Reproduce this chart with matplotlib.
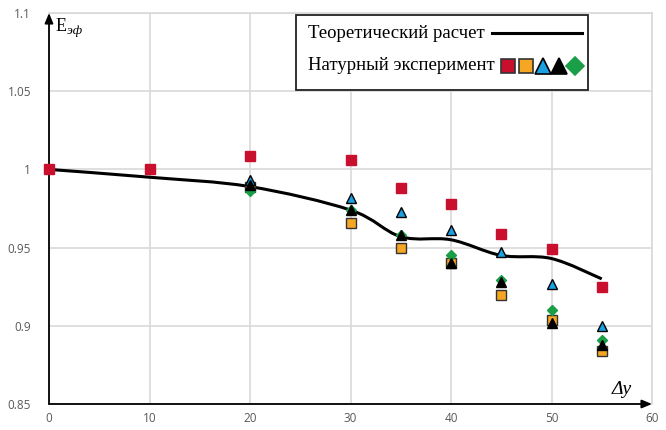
import numpy as np
import matplotlib
matplotlib.use('Agg')
import matplotlib.pyplot as plt
from matplotlib.path import Path
from matplotlib.patches import PathPatch, Rectangle
from matplotlib.lines import Line2D

# theoretical curve
x_theory = [0, 10, 20, 30, 35, 40, 45, 50, 55]
y_theory = [1.000, 0.995, 0.989, 0.974, 0.957, 0.955, 0.945, 0.943, 0.930]

# field experiment series
x_red = [0, 10, 20, 30, 35, 40, 45, 50, 55]
y_red = [1.000, 1.000, 1.0086, 1.006, 0.988, 0.978, 0.959, 0.949, 0.925]

x_exp = [20, 30, 35, 40, 45, 50, 55]
y_orange = [0.989, 0.966, 0.950, 0.940, 0.920, 0.904, 0.884]
y_green = [0.986, 0.974, 0.958, 0.945, 0.929, 0.910, 0.891]
y_blue = [0.993, 0.982, 0.973, 0.961, 0.947, 0.927, 0.900]
y_black = [0.990, 0.974, 0.958, 0.940, 0.928, 0.902, 0.888]

x_ticks = [0, 10, 20, 30, 40, 50, 60]
y_ticks = [0.85, 0.9, 0.95, 1.0, 1.05, 1.1]
y_tick_labels = ['0.85', '0.9', '0.95', '1', '1.05', '1.1']

RED = '#c8102e'
ORANGE = '#f5a623'
BLUE = '#1ba1e2'
GREEN = '#1a9e48'

W, H = 666, 430
fig = plt.figure(figsize=(W / 100, H / 100), dpi=100)
ax = fig.add_axes([49 / W, 1 - 404 / H, (652 - 49) / W, (404 - 13) / H])
ax.set_xlim(0, 60)
ax.set_ylim(0.85, 1.1)
ax.set_xticks(x_ticks)
ax.set_yticks(y_ticks)
ax.set_yticklabels(y_tick_labels)
ax.tick_params(length=0, labelsize=8.5, colors='#595959')
ax.tick_params(axis='x', pad=6)
ax.tick_params(axis='y', pad=13)
for lab in ax.get_xticklabels() + ax.get_yticklabels():
    lab.set_fontfamily('Open Sans')
ax.grid(True, color='#d9d9d9', lw=1.2)
ax.set_axisbelow(True)
for s in ['left', 'bottom']:
    ax.spines[s].set_visible(False)
for s in ['top', 'right']:
    ax.spines[s].set_color('#d9d9d9')
    ax.spines[s].set_linewidth(1.2)

# axes with arrows
arrow = dict(arrowstyle='-|>,head_length=0.6,head_width=0.25', color='black', lw=1.3,
             shrinkA=0, shrinkB=0)
ax.annotate('', xy=(0, 1.1), xytext=(0, 0.85), arrowprops=arrow, annotation_clip=False)
ax.annotate('', xy=(60, 0.85), xytext=(0, 0.85), arrowprops=arrow, annotation_clip=False)

# smoothed theory line (bezier through the points)
px = np.array(x_theory, float)
py = np.array(y_theory, float)
verts = [(px[0], py[0])]
codes = [Path.MOVETO]
n = len(px)
for i in range(n - 1):
    i0 = max(i - 1, 0)
    i3 = min(i + 2, n - 1)
    c1 = (px[i] + (px[i + 1] - px[i0]) / 6, py[i] + (py[i + 1] - py[i0]) / 6)
    c2 = (px[i + 1] - (px[i3] - px[i]) / 6, py[i + 1] - (py[i3] - py[i]) / 6)
    verts += [c1, c2, (px[i + 1], py[i + 1])]
    codes += [Path.CURVE4] * 3
ax.add_patch(PathPatch(Path(verts, codes), fill=False, color='black', lw=2.2, zorder=3))

ms = 7
ax.plot(x_red, y_red, 's', color=RED, ms=ms, mec=RED, zorder=4, clip_on=False)
ax.plot(x_exp, y_orange, 's', color=ORANGE, ms=ms, mec='#333333', mew=1, zorder=4)
ax.plot(x_exp, y_green, 'D', color=GREEN, ms=5, mec=GREEN, zorder=4)
ax.plot(x_exp, y_blue, '^', color=BLUE, ms=7, mec='black', mew=1, zorder=4)
ax.plot(x_exp, y_black, '^', color='black', ms=7, mec='black', zorder=4)

# axis titles
serif = 'Liberation Serif'
fig.text(56 / W, 1 - 31 / H, 'E', fontsize=13, family=serif, va='baseline')
fig.text(67 / W, 1 - 34 / H, 'эф', fontsize=9.5, family=serif, style='italic', va='baseline')
fig.text(612 / W, 1 - 394 / H, 'Δy', fontsize=14, family=serif, style='italic', va='baseline')

# legend drawn by hand
def fx(p):
    return p / W

def fy(p):
    return 1 - p / H

fig.patches.append(Rectangle((fx(296), fy(90)), (588 - 296) / W, (90 - 15) / H,
                             transform=fig.transFigure, fill=True, fc='white',
                             ec='#222222', lw=1.3, zorder=5))
fig.text(fx(308), fy(33), 'Теоретический расчет', fontsize=13.5, family=serif,
         va='center', zorder=6)
fig.text(fx(308), fy(66), 'Натурный эксперимент', fontsize=13.5, family=serif,
         va='center', zorder=6)
fig.lines.append(Line2D([fx(492), fx(582)], [fy(33), fy(33)], color='black', lw=2.2,
                        transform=fig.transFigure, zorder=6))
leg_marks = [
    (508, 's', RED, '#333333', 10),
    (526, 's', ORANGE, '#333333', 10),
    (543, '^', BLUE, 'black', 12),
    (559, '^', 'black', 'black', 12),
    (575, 'D', GREEN, GREEN, 9),
]
for xp, m, c, ec, s in leg_marks:
    fig.lines.append(Line2D([fx(xp)], [fy(66)], marker=m, color=c, mec=ec, ms=s, mew=1.2,
                            transform=fig.transFigure, zorder=6))

fig.savefig('out.png', dpi=100)
